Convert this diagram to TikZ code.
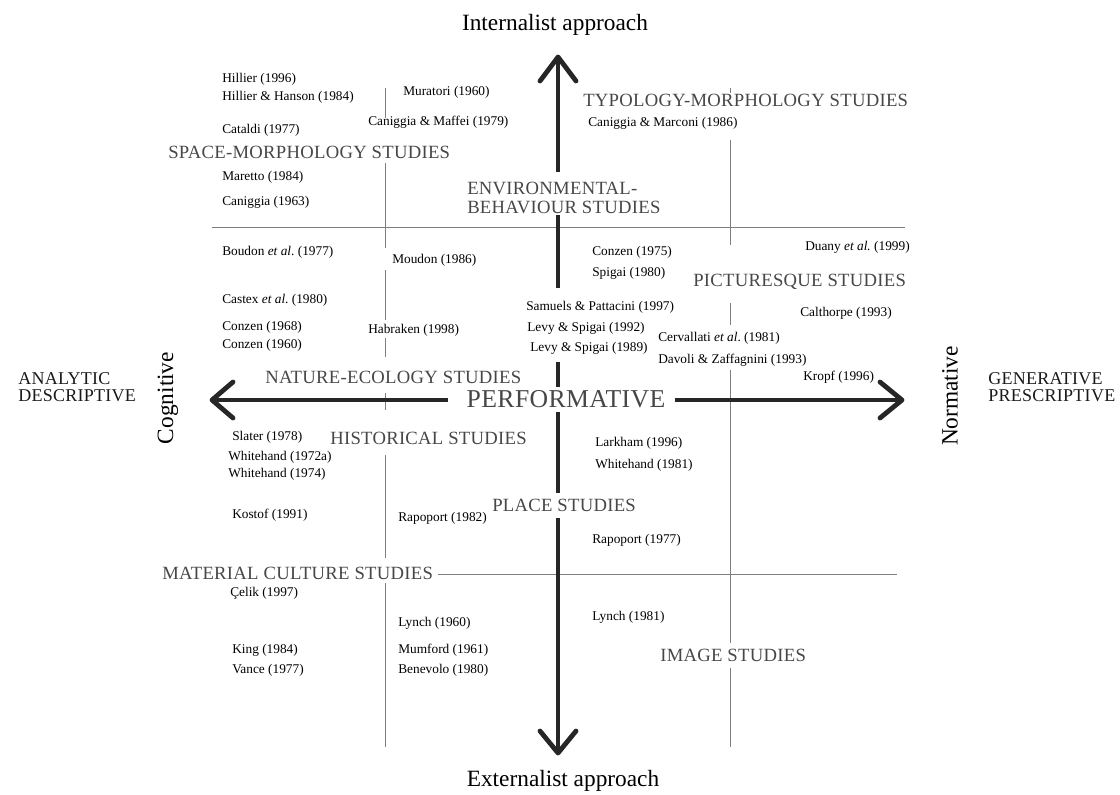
\documentclass[tikz,border=0pt]{standalone}
\usepackage{fontspec}
\setmainfont{Liberation Serif}
\newfontfamily\capsfont[LetterSpace=1.5]{Liberation Serif}
\frenchspacing

\begin{document}
\begin{tikzpicture}[x=0.75pt,y=-0.75pt,
  cite/.style={anchor=west, inner sep=0pt, font=\fontsize{10}{12}\selectfont},
  field/.style={anchor=west, inner sep=0pt, text=black!72, align=left,
    font=\capsfont\fontsize{14}{14.25}\selectfont},
  pole/.style={anchor=west, inner sep=0pt, text=black!90, align=left,
    font=\capsfont\fontsize{13.5}{12.75}\selectfont},
  axislabel/.style={inner sep=0pt, font=\fontsize{17.5}{20}\selectfont},
  axis/.style={line width=3.6pt, draw=black!85, line cap=butt},
  tip/.style={line width=3.6pt, draw=black!85, line cap=round, line join=round},
  grid/.style={line width=0.7pt, draw=black!50}
]
\useasboundingbox (0,0) rectangle (1120,794);

% ---- thin grid lines ----
\draw[grid] (212,227) -- (905,227);
\draw[grid] (438,574) -- (897,574);
\draw[grid] (385,88) -- (385,118)  (385,163) -- (385,248)  (385,270) -- (385,320)
            (385,338) -- (385,357) (385,393) -- (385,410)  (385,455) -- (385,558)
            (385,583) -- (385,747);
\draw[grid] (730,88) -- (730,93)   (730,140) -- (730,245)  (730,303) -- (730,325)
            (730,370) -- (730,643) (730,668) -- (730,747);

% ---- main axes ----
\coordinate (topTip) at (558,57);
\coordinate (botTip) at (558,753);
\coordinate (leftTip) at (212,400);
\coordinate (rightTip) at (902,400);

\draw[axis] (topTip) -- (558,172)  (558,215) -- (558,288)  (558,362) -- (558,387)
            (558,412) -- (558,493)  (558,518) -- (botTip);
\draw[axis] (leftTip) -- (448,400)  (675,400) -- (rightTip);
\draw[tip] (540,81) -- (topTip) -- (576,81);
\draw[tip] (540,731) -- (botTip) -- (576,731);
\draw[tip] (233,382) -- (leftTip) -- (233,418);
\draw[tip] (880,382) -- (rightTip) -- (880,418);

% ---- axis labels ----
\node[axislabel] (internal) at (555,25) {Internalist approach};
\node[axislabel] (external) at (563,781) {Externalist approach};
\node[axislabel, rotate=90] (cognitive) at (168,398) {Cognitive};
\node[axislabel, rotate=90] (normative) at (950,396) {Normative};
\node[pole] (analytic) at (18,387) {ANALYTIC\\DESCRIPTIVE};
\node[pole] (generative) at (988,387) {GENERATIVE\\PRESCRIPTIVE};
\node[field, anchor=center, font=\capsfont\fontsize{19.3}{20}\selectfont]
  (performative) at (566,399) {PERFORMATIVE};

% ---- fields of study ----
\node[field] (spacemorph) at (168,152) {SPACE-MORPHOLOGY STUDIES};
\node[field] (typomorph) at (583,100) {TYPOLOGY-MORPHOLOGY STUDIES};
\node[field] (environ) at (467,197.5) {ENVIRONMENTAL-\\BEHAVIOUR STUDIES};
\node[field] (picturesque) at (693,282) {PICTURESQUE STUDIES};
\node[field] (nature) at (265,377) {NATURE-ECOLOGY STUDIES};
\node[field] (historical) at (330,438) {HISTORICAL STUDIES};
\node[field] (place) at (492,505) {PLACE STUDIES};
\node[field] (material) at (162,573) {MATERIAL CULTURE STUDIES};
\node[field] (imagest) at (660,655) {IMAGE STUDIES};

% ---- references: upper half ----
\node[cite] (hillier96) at (222,79) {Hillier (1996)};
\node[cite] (hillierhanson) at (222,97) {Hillier \& Hanson (1984)};
\node[cite] (cataldi) at (222,130) {Cataldi (1977)};
\node[cite] (muratori) at (403,92) {Muratori (1960)};
\node[cite] (canmaffei) at (368,122) {Caniggia \& Maffei (1979)};
\node[cite] (maretto) at (222,177) {Maretto (1984)};
\node[cite] (caniggia63) at (222,202) {Caniggia (1963)};
\node[cite] (canmarconi) at (588,123) {Caniggia \& Marconi (1986)};
\node[cite] (boudon) at (222,252) {Boudon \textit{et al}. (1977)};
\node[cite] (moudon) at (392,260) {Moudon (1986)};
\node[cite] (castex) at (222,300) {Castex \textit{et al}. (1980)};
\node[cite] (conzen68) at (222,327) {Conzen (1968)};
\node[cite] (conzen60) at (222,345) {Conzen (1960)};
\node[cite] (habraken) at (368,330) {Habraken (1998)};
\node[cite] (conzen75) at (592,252) {Conzen (1975)};
\node[cite] (spigai) at (592,273) {Spigai (1980)};
\node[cite] (duany) at (805,247) {Duany \textit{et al.} (1999)};
\node[cite] (samuels) at (526,307) {Samuels \& Pattacini (1997)};
\node[cite] (levy92) at (527,328) {Levy \& Spigai (1992)};
\node[cite] (levy89) at (530,348) {Levy \& Spigai (1989)};
\node[cite] (calthorpe) at (800,313) {Calthorpe (1993)};
\node[cite] (cervallati) at (658,338) {Cervallati \textit{et al}. (1981)};
\node[cite] (davoli) at (658,360) {Davoli \& Zaffagnini (1993)};
\node[cite] (kropf) at (803,377) {Kropf (1996)};

% ---- references: lower half ----
\node[cite] (slater) at (232,437) {Slater (1978)};
\node[cite] (white72) at (228,457) {Whitehand (1972a)};
\node[cite] (white74) at (228,474) {Whitehand (1974)};
\node[cite] (kostof) at (232,515) {Kostof (1991)};
\node[cite] (rapo82) at (398,518) {Rapoport (1982)};
\node[cite] (celik) at (230,593) {Çelik (1997)};
\node[cite] (lynch60) at (398,623) {Lynch (1960)};
\node[cite] (king) at (232,650) {King (1984)};
\node[cite] (mumford) at (398,650) {Mumford (1961)};
\node[cite] (vance) at (232,670) {Vance (1977)};
\node[cite] (benevolo) at (398,670) {Benevolo (1980)};
\node[cite] (larkham) at (595,443) {Larkham (1996)};
\node[cite] (white81) at (595,465) {Whitehand (1981)};
\node[cite] (rapo77) at (592,540) {Rapoport (1977)};
\node[cite] (lynch81) at (592,617) {Lynch (1981)};
\end{tikzpicture}
\end{document}
